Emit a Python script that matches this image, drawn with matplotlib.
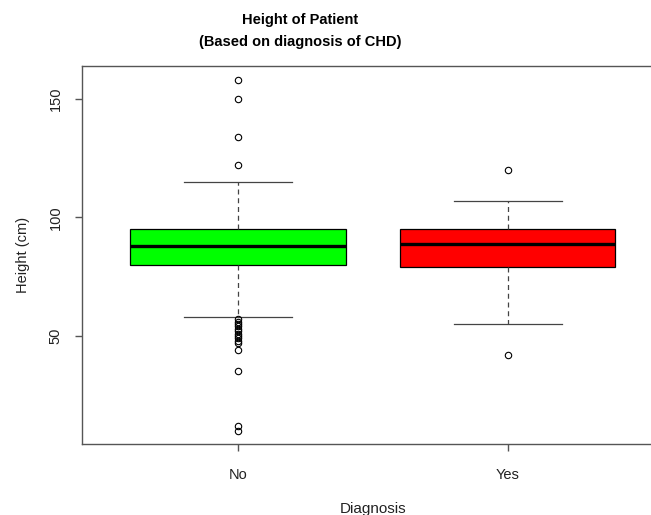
import matplotlib.pyplot as plt

plt.rcParams['font.family'] = ['Liberation Sans', 'DejaVu Sans']

# Height (cm) summaries by CHD diagnosis
groups = ["No", "Yes"]
q1 = [80, 79]
median = [88, 89]
q3 = [95, 95]
whisker_low = [58, 55]
whisker_high = [115, 107]
outliers = [
    [158, 150, 134, 122, 57, 56, 55, 54, 53, 52, 51, 50, 49, 48, 47, 44, 35, 12, 10],
    [120, 42],
]
box_colors = ["#00ff00", "#ff0000"]

stats = []
for i, name in enumerate(groups):
    stats.append({
        "label": name,
        "q1": q1[i],
        "med": median[i],
        "q3": q3[i],
        "whislo": whisker_low[i],
        "whishi": whisker_high[i],
        "fliers": outliers[i],
    })

fig = plt.figure(figsize=(6.51, 5.15), dpi=100)
ax = fig.add_axes([82 / 651, 1 - 444 / 515, 582 / 651, 378 / 515])

frame = "#555555"
bp = ax.bxp(
    stats,
    positions=[1, 2],
    widths=0.8,
    patch_artist=True,
    boxprops=dict(edgecolor="black", linewidth=0.9),
    medianprops=dict(color="black", linewidth=2.4, solid_capstyle="butt"),
    whiskerprops=dict(color="#444444", linewidth=0.9, linestyle=(0, (4, 3))),
    capprops=dict(color="#444444", linewidth=0.9),
    capwidths=0.4,
    flierprops=dict(marker="o", markerfacecolor="none", markeredgecolor="black",
                    markersize=4.6, markeredgewidth=0.8),
)
for patch, col in zip(bp["boxes"], box_colors):
    patch.set_facecolor(col)

ax.set_xlim(0.42, 2.58)
ax.set_ylim(4.4, 163.9)
ax.set_yticks([50, 100, 150])
ax.set_yticklabels(["50", "100", "150"], rotation=90, va="center")
ax.set_xticks([1, 2])
ax.set_xticklabels(groups)

for sp in ax.spines.values():
    sp.set_color(frame)
    sp.set_linewidth(1.0)
ax.tick_params(axis="both", colors=frame, length=5, width=1.0, labelsize=10.5,
               labelcolor="#222222")
ax.tick_params(axis="x", pad=12)
ax.tick_params(axis="y", pad=9)

ax.set_xlabel("Diagnosis", fontsize=11, color="#222222", labelpad=15)
ax.set_ylabel("Height (cm)", fontsize=10.5, color="#222222", labelpad=13)

fig.text(300 / 651, 1 - 20 / 515, "Height of Patient", ha="center", va="center",
         fontsize=10.5, fontweight="bold")
fig.text(300 / 651, 1 - 42 / 515, "(Based on diagnosis of CHD)", ha="center",
         va="center", fontsize=10.5, fontweight="bold")

fig.savefig("out.png", dpi=100)
